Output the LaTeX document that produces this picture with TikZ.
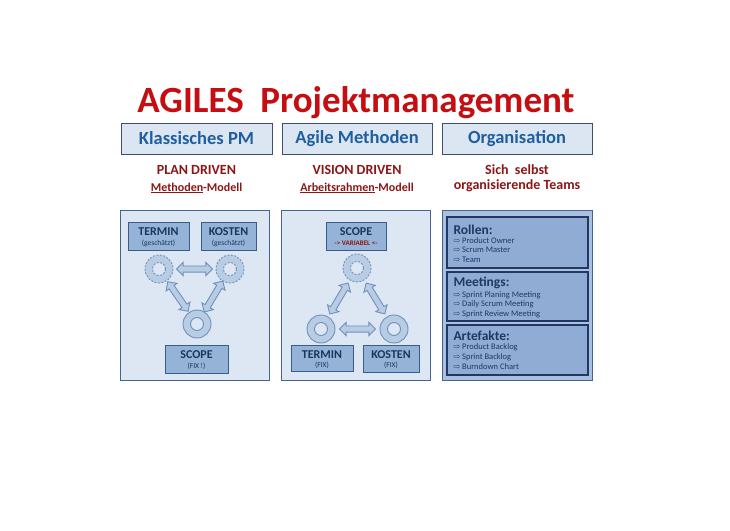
\documentclass[tikz,border=0pt]{standalone}
\usepackage{fontspec}
\setmainfont{Carlito}
\newfontfamily\symfont{DejaVu Sans}
\usetikzlibrary{shapes.arrows,calc}
\definecolor{titlered}{RGB}{196,14,18}
\definecolor{subred}{RGB}{140,22,22}
\definecolor{headfill}{RGB}{220,230,242}
\definecolor{headdraw}{RGB}{60,80,110}
\definecolor{headtext}{RGB}{31,95,160}
\definecolor{panelfill}{RGB}{221,231,243}
\definecolor{paneldraw}{RGB}{70,100,145}
\definecolor{boxfill}{RGB}{149,179,215}
\definecolor{boxdraw}{RGB}{56,93,138}
\definecolor{navy}{RGB}{23,55,94}
\definecolor{ringfill}{RGB}{184,204,228}
\definecolor{ringdraw}{RGB}{111,144,191}
\definecolor{orgfill}{RGB}{170,192,222}
\definecolor{orgbox}{RGB}{144,171,212}
\definecolor{orgdraw}{RGB}{31,56,100}
\tikzset{
  headbox/.style={draw=headdraw, line width=0.9pt, fill=headfill},
  headtxt/.style={text=headtext, font=\fontsize{18.5}{20}\selectfont\bfseries},
  subtxt/.style={text=subred, font=\fontsize{14}{15}\selectfont\bfseries},
  subtxtb/.style={text=subred, font=\fontsize{12}{13}\selectfont\bfseries},
  panel/.style={draw=paneldraw, line width=1pt, fill=panelfill},
  ibox/.style={draw=boxdraw, line width=1pt, fill=boxfill},
  bigtxt/.style={text=navy, font=\fontsize{12}{13}\selectfont\bfseries},
  smalltxt/.style={text=navy, font=\fontsize{7.5}{8}\selectfont},
  ringst/.style={draw=ringdraw, line width=0.9pt, fill=ringfill, even odd rule},
  estring/.style={ringst, dash pattern=on 2pt off 1.5pt},
  barrow/.style={double arrow, draw=ringdraw, line width=0.9pt, fill=ringfill,
    minimum height=36pt, inner sep=2.6pt, double arrow head extend=3.6pt},
  orgpanel/.style={draw=paneldraw, line width=1pt, fill=orgfill},
  orgbx/.style={draw=orgdraw, line width=1.3pt, fill=orgbox},
  orghead/.style={text=orgdraw, font=\fontsize{13.5}{14}\selectfont\bfseries, anchor=west},
  orgitem/.style={text=orgdraw, font=\fontsize{8.5}{9}\selectfont, anchor=west},
}
\newcommand\blockarrow[2]{\path let \p1=($(#2)-(#1)$), \n1={atan2(\y1,\x1)} in node[barrow, rotate=\n1] at ($(#1)!0.5!(#2)$) {};}
\newcommand\arr{{\symfont\fontsize{8}{9}\selectfont ⇨}~}
\begin{document}
\begin{tikzpicture}[x=1pt,y=-1pt]
\useasboundingbox[fill=white] (0,0) rectangle (730,530);
% title
\node[text=titlered, font=\fontsize{37}{40}\selectfont\bfseries] (title) at (356,103) {AGILES\ \ Projektmanagement};
% headers
\draw[headbox] (121,123) rectangle (272,154);
\node[headtxt] (h1) at (196.5,138.5) {Klassisches PM};
\draw[headbox] (282,123) rectangle (432,154);
\node[headtxt] (h2) at (357,138.5) {Agile Methoden};
\draw[headbox] (442,123) rectangle (592,154);
\node[headtxt] (h3) at (517,138.5) {Organisation};
% subtitles
\node[subtxt] (s1a) at (196.5,170) {PLAN DRIVEN};
\node[subtxtb] (s1b) at (196.5,188) {\underline{Methoden}-Modell};
\node[subtxt] (s2a) at (357,170) {VISION DRIVEN};
\node[subtxtb] (s2b) at (357,188) {\underline{Arbeitsrahmen}-Modell};
\node[subtxt] (s3a) at (517,170) {Sich\ \ selbst};
\node[subtxt] (s3b) at (517,186) {organisierende Teams};
% panel 1
\draw[panel] (120,210) rectangle (269,380);
\draw[ibox] (128,222) rectangle (189,250);
\node[bigtxt] (t1) at (158.5,232) {TERMIN};
\node[smalltxt] (t1s) at (158.5,243) {(geschätzt)};
\draw[ibox] (201,222) rectangle (256,250);
\node[bigtxt] (k1) at (228.5,232) {KOSTEN};
\node[smalltxt] (k1s) at (228.5,243) {(geschätzt)};
\draw[ibox] (165,345) rectangle (228,373);
\node[bigtxt] (sc1) at (196.5,355) {SCOPE};
\node[smalltxt] (sc1s) at (196.5,366) {(FIX !)};
\coordinate (ra) at (159,269);
\coordinate (rb) at (230,269);
\coordinate (rc) at (197,324);
\path[estring] (ra) circle (14) (ra) circle (6.5);
\path[estring] (rb) circle (14) (rb) circle (6.5);
\path[ringst] (rc) circle (14) (rc) circle (6.5);
\blockarrow{ra}{rb}
\blockarrow{ra}{rc}
\blockarrow{rb}{rc}
% panel 2
\draw[panel] (281,210) rectangle (430,380);
\draw[ibox] (326,222) rectangle (386,250);
\node[bigtxt] (sc2) at (356,232) {SCOPE};
\node[text=subred, font=\fontsize{7}{8}\selectfont\bfseries] (sc2s) at (356,243) {-> VARIABEL <-};
\draw[ibox] (291,345) rectangle (353,371);
\node[bigtxt] (t2) at (322,355) {TERMIN};
\node[smalltxt] (t2s) at (322,365) {(FIX)};
\draw[ibox] (363,345) rectangle (419,372);
\node[bigtxt] (k2) at (391,355) {KOSTEN};
\node[smalltxt] (k2s) at (391,365) {(FIX)};
\coordinate (rd) at (357,268);
\coordinate (re) at (321,329);
\coordinate (rf) at (394,329);
\path[estring] (rd) circle (14) (rd) circle (6.5);
\path[ringst] (re) circle (14) (re) circle (6.5);
\path[ringst] (rf) circle (14) (rf) circle (6.5);
\blockarrow{rd}{re}
\blockarrow{rd}{rf}
\blockarrow{re}{rf}
% panel 3
\draw[orgpanel] (442,210) rectangle (592,380);
\draw[orgbx] (447,217) rectangle (588,268);
\node[orghead] (ro) at (450,230) {Rollen:};
\node[orgitem] (ro1) at (450,240.5) {\arr Product Owner};
\node[orgitem] (ro2) at (450,250) {\arr Scrum Master};
\node[orgitem] (ro3) at (450,259.5) {\arr Team};
\draw[orgbx] (447,272) rectangle (588,321);
\node[orghead] (me) at (450,283) {Meetings:};
\node[orgitem] (me1) at (450,295) {\arr Sprint Planing Meeting};
\node[orgitem] (me2) at (450,304.5) {\arr Daily Scrum Meeting};
\node[orgitem] (me3) at (450,314) {\arr Sprint Review Meeting};
\draw[orgbx] (447,325) rectangle (588,375);
\node[orghead] (ar) at (450,336) {Artefakte:};
\node[orgitem] (ar1) at (450,347.5) {\arr Product Backlog};
\node[orgitem] (ar2) at (450,357.5) {\arr Sprint Backlog};
\node[orgitem] (ar3) at (450,367) {\arr Burndown Chart};
\end{tikzpicture}
\end{document}
